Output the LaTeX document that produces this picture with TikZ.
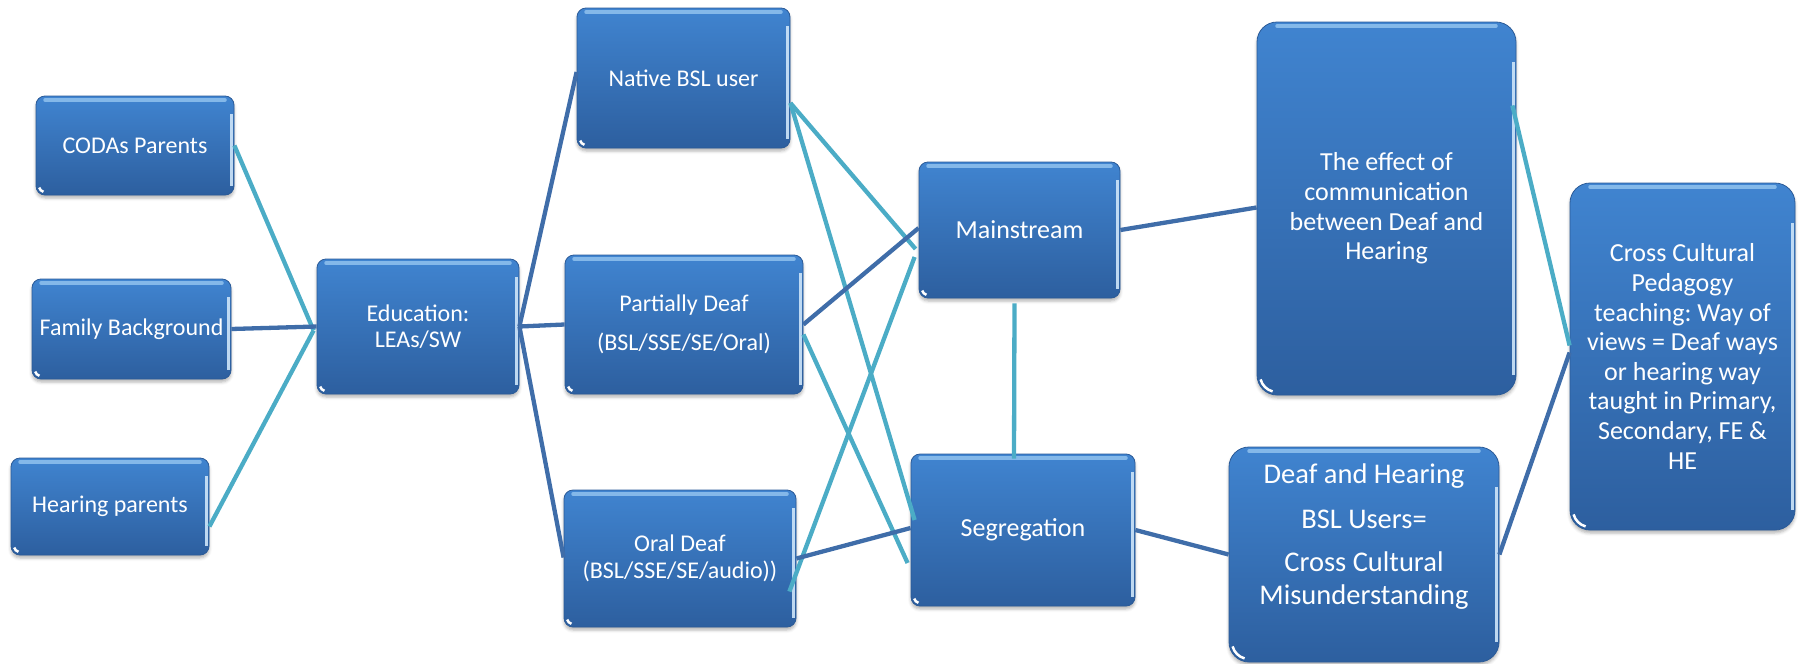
\documentclass[tikz,border=0pt]{standalone}
\usepackage{fontspec}
\setmainfont{Carlito}
\usetikzlibrary{calc,shadows.blur}
\frenchspacing

\definecolor{boxtop}{HTML}{4084D0}
\definecolor{boxbottom}{HTML}{2D5F9F}
\definecolor{boxrim}{HTML}{2B5B98}
\definecolor{glint}{HTML}{9CCBF3}
\definecolor{tealline}{HTML}{4BACC6}
\definecolor{navyline}{HTML}{3F6DA9}

\newcommand\fontsmall{\fontsize{24}{29.5}\selectfont}
\newcommand\fontmid{\fontsize{26}{29.6}\selectfont}
\newcommand\fontbig{\fontsize{28.5}{33}\selectfont}

\tikzset{
  gbox/.style={
    rounded corners=#1, draw=boxrim, line width=0.8pt,
    top color=boxtop, bottom color=boxbottom,
    blur shadow={shadow xshift=0pt, shadow yshift=-3pt,
                 shadow blur radius=3pt, shadow opacity=30},
    text=white, align=center, inner sep=0pt,
    path picture={
      % light band along the top edge
      \draw[glint, line width=3.5pt, line cap=round, opacity=.75]
        ([shift={(#1,-4pt)}]path picture bounding box.north west) --
        ([shift={(-#1,-4pt)}]path picture bounding box.north east);
      % glossy strip down the right edge
      \draw[white!50!glint, line width=3pt, opacity=.9]
        ([shift={(-2.5pt,-2*#1)}]path picture bounding box.north east) --
        ([shift={(-2.5pt,#1)}]path picture bounding box.south east);
      % small reflection in the lower left corner
      \draw[white, line width=2.5pt]
        ($(path picture bounding box.south west)+(#1,#1)+(195:#1-3pt)$)
        arc[start angle=195, end angle=255, radius=#1-3pt];
    }
  },
  gbox/.default=9pt,
  teal link/.style={draw=tealline, line width=4.3pt},
  navy link/.style={draw=navyline, line width=4.3pt},
}

\begin{document}
\begin{tikzpicture}[x=1pt, y=-1pt]
\useasboundingbox (0,0) rectangle (1800,664);

% family side
\node[gbox, minimum width=198pt, minimum height=99pt, font=\fontsmall]
  (codas) at (135,145.5) {CODAs Parents};
\node[gbox, minimum width=199pt, minimum height=100pt, font=\fontsmall]
  (family) at (131.5,329) {Family Background};
\node[gbox, minimum width=198pt, minimum height=97pt, font=\fontsmall]
  (hearing) at (110,506.5) {Hearing parents};

% education
\node[gbox, minimum width=202pt, minimum height=135pt, font=\fontsmall]
  (edu) at (418,326.5) {Education:\\[-4pt]LEAs/SW};

% kinds of deafness
\node[gbox, minimum width=213pt, minimum height=140pt, font=\fontsmall]
  (native) at (683.5,78) {Native BSL user};
\node[gbox, minimum width=238pt, minimum height=139pt, font=\fontsmall]
  (partial) at (684,324.5) {Partially Deaf\\[9pt](BSL/SSE/SE/Oral)};
\node[gbox, minimum width=232pt, minimum height=137pt, font=\fontsmall]
  (oral) at (680,558.5) {Oral Deaf\\[-2.5pt](BSL/SSE/SE/audio))};

% schooling
\node[gbox, minimum width=201pt, minimum height=136pt, font=\fontmid]
  (main) at (1019.5,230) {Mainstream};
\node[gbox, minimum width=224pt, minimum height=152pt, font=\fontmid]
  (seg) at (1023,530) {Segregation};

% outcomes
\node[gbox=20pt, minimum width=259pt, minimum height=373pt, font=\fontmid]
  (effect) at (1386.5,208.5)
  {The effect of\\communication\\between Deaf and\\Hearing};
\node[gbox=20pt, minimum width=270pt, minimum height=215pt, font=\fontbig]
  (dh) at (1364,554.5)
  {\raisebox{17pt}[\height][\depth]{\begin{tabular}{@{}c@{}}Deaf and Hearing\\[12pt]BSL Users=\\[10pt]Cross Cultural\\Misunderstanding\end{tabular}}};
\node[gbox=20pt, minimum width=225pt, minimum height=347pt, font=\fontmid]
  (cross) at (1682.5,356.5)
  {Cross Cultural\\Pedagogy\\teaching: Way of\\views = Deaf ways\\or hearing way\\taught in Primary,\\Secondary, FE \&\\HE};

% connectors
\path[teal link] (codas.east) -- ([xshift=-3pt,yshift=-4pt]edu.west);
\path[navy link] (family.east) -- (edu.west);
\path[teal link] ([yshift=-20pt]hearing.east) -- ([xshift=-3pt,yshift=-4pt]edu.west);

\path[navy link] (edu.east) -- ([yshift=6pt]native.west);
\path[navy link] (edu.east) -- (partial.west);
\path[navy link] (edu.east) -- ([yshift=1pt]oral.west);

\path[teal link] ([yshift=-25pt]native.east) -- ([xshift=-3pt,yshift=-19pt]main.west);
\path[teal link] ([yshift=-25pt]native.east) -- ([xshift=4pt,yshift=10pt]seg.west);
\path[navy link] (partial.east) -- ([yshift=2pt]main.west);
\path[teal link] ([yshift=-10pt]partial.east) -- ([xshift=-3pt,yshift=-33pt]seg.west);
\path[teal link] ([xshift=-7pt,yshift=-33pt]oral.east) -- ([xshift=-4pt,yshift=-27pt]main.west);
\path[navy link] (oral.east) -- ([yshift=2pt]seg.west);

\path[teal link] ([xshift=-5pt,yshift=-5pt]main.south) -- ([xshift=-9pt,yshift=-5pt]seg.north);

\path[navy link] (main.east) -- ([yshift=1pt]effect.west);
\path[navy link] (seg.east) -- (dh.west);
\path[teal link] ([xshift=-4pt,yshift=103pt]effect.east) -- ([yshift=11pt]cross.west);
\path[navy link] (dh.east) -- ([yshift=4pt]cross.west);
\end{tikzpicture}
\end{document}
